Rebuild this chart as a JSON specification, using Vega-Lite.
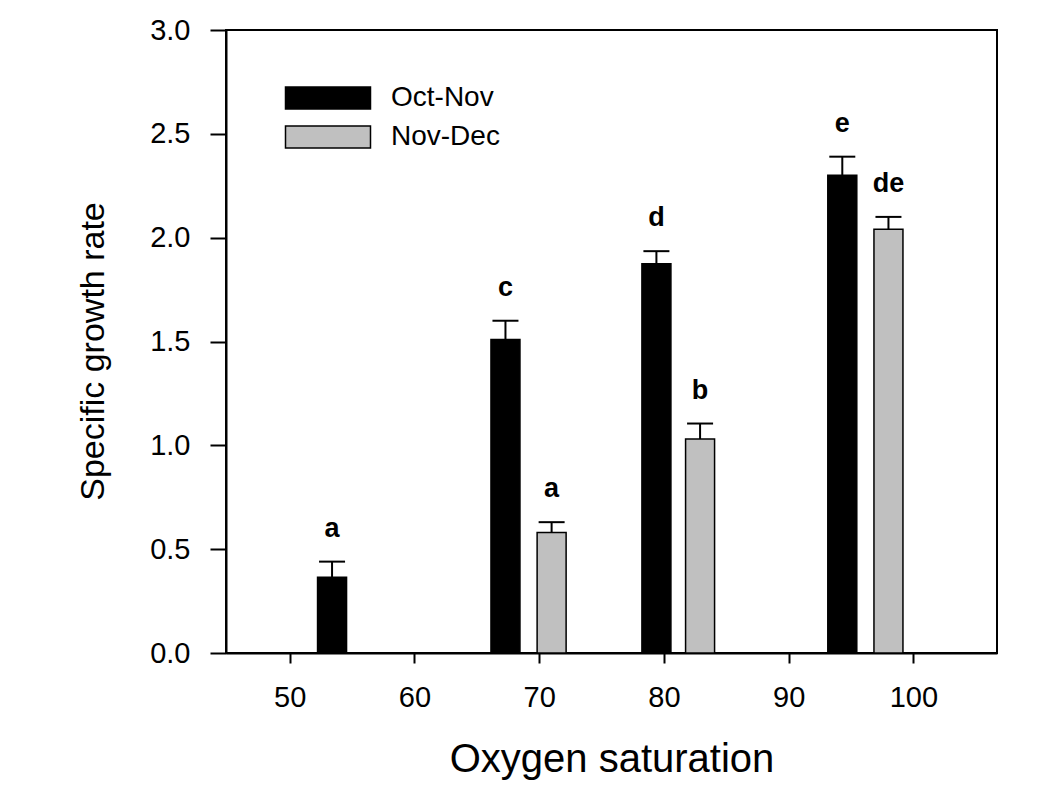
{
  "$schema": "https://vega.github.io/schema/vega-lite/v6.json",
  "width": 771,
  "height": 623,
  "autosize": {"type": "none"},
  "padding": {"left": 226, "top": 30, "right": 45, "bottom": 138},
  "background": "white",
  "config": {
    "font": "Liberation Sans",
    "view": {"stroke": "black", "strokeWidth": 2},
    "axis": {"grid": false, "domainColor": "black", "domainWidth": 2, "tickColor": "black", "tickWidth": 2, "labelColor": "black", "titleColor": "black", "labelFont": "Liberation Sans", "titleFont": "Liberation Sans", "titleFontWeight": "normal"}
  },
  "data": {
    "values": [
      {"oxygen": 53.4, "rate": 0.365, "upper": 0.44, "period": "Oct-Nov", "letter": "a"},
      {"oxygen": 67.3, "rate": 1.51, "upper": 1.60, "period": "Oct-Nov", "letter": "c"},
      {"oxygen": 79.4, "rate": 1.875, "upper": 1.935, "period": "Oct-Nov", "letter": "d"},
      {"oxygen": 94.3, "rate": 2.30, "upper": 2.39, "period": "Oct-Nov", "letter": "e"},
      {"oxygen": 71.0, "rate": 0.58, "upper": 0.63, "period": "Nov-Dec", "letter": "a"},
      {"oxygen": 82.9, "rate": 1.03, "upper": 1.105, "period": "Nov-Dec", "letter": "b"},
      {"oxygen": 98.0, "rate": 2.04, "upper": 2.10, "period": "Nov-Dec", "letter": "de"}
    ]
  },
  "encoding": {
    "x": {
      "field": "oxygen", "type": "quantitative",
      "scale": {"domain": [45.3, 106.3], "nice": false, "zero": false},
      "axis": {"title": "Oxygen saturation", "values": [50, 60, 70, 80, 90, 100], "tickSize": 10, "labelPadding": 20, "labelFontSize": 29, "titleFontSize": 40, "titleY": 86, "labelFlush": false}
    }
  },
  "layer": [
    {
      "mark": {"type": "rule", "color": "black", "strokeWidth": 2},
      "encoding": {
        "y": {"field": "rate", "type": "quantitative"},
        "y2": {"field": "upper"}
      }
    },
    {
      "mark": {"type": "tick", "orient": "horizontal", "color": "black", "size": 26, "thickness": 2, "opacity": 1},
      "encoding": {
        "y": {"field": "upper", "type": "quantitative"}
      }
    },
    {
      "mark": {"type": "bar", "size": 29, "stroke": "black", "strokeWidth": 1.5, "opacity": 1},
      "encoding": {
        "y": {
          "field": "rate", "type": "quantitative",
          "scale": {"domain": [0, 3], "nice": false},
          "axis": {"title": "Specific growth rate", "values": [0, 0.5, 1, 1.5, 2, 2.5, 3], "format": ".1f", "tickSize": 16, "labelPadding": 20, "labelFontSize": 29, "titleFontSize": 34, "titleX": -116, "titleY": 321, "labelFlush": false}
        },
        "color": {
          "field": "period", "type": "nominal",
          "scale": {"domain": ["Oct-Nov", "Nov-Dec"], "range": ["#000000", "#c0c0c0"]},
          "legend": {
            "title": null, "orient": "none", "legendX": 80, "legendY": 46,
            "symbolType": "M-2,-0.52H2V0.52H-2Z", "symbolSize": 1806,
            "symbolStrokeColor": "black", "symbolStrokeWidth": 1.5,
            "labelFontSize": 28, "labelColor": "black", "labelFont": "Liberation Sans", "labelOffset": 41, "rowPadding": 2
          }
        }
      }
    },
    {
      "mark": {"type": "text", "fontSize": 27, "fontWeight": "bold", "baseline": "middle", "dy": -33, "color": "black"},
      "encoding": {
        "y": {"field": "upper", "type": "quantitative"},
        "text": {"field": "letter"}
      }
    }
  ]
}
